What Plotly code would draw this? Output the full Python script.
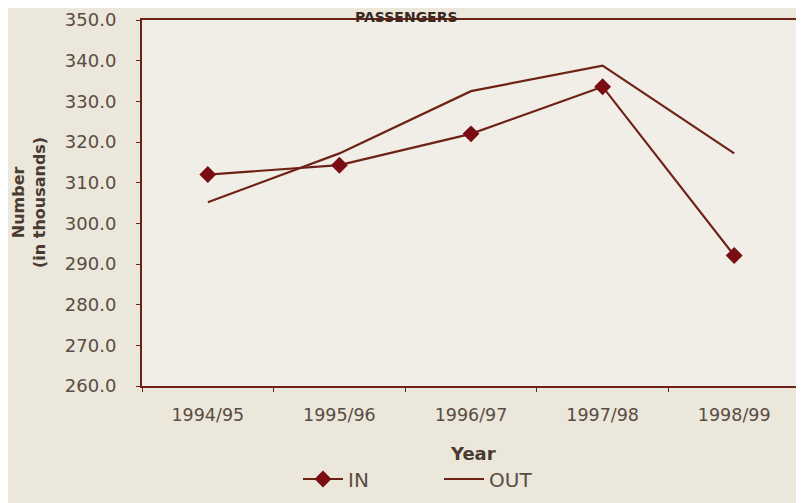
import plotly.graph_objects as go

# passengers by year (thousands)
years = ["1994/95", "1995/96", "1996/97", "1997/98", "1998/99"]
passengers_in = [312.0, 314.3, 322.0, 333.6, 292.1]
passengers_out = [305.2, 317.2, 332.5, 338.8, 317.2]
y_ticks = [260, 270, 280, 290, 300, 310, 320, 330, 340, 350]

line_col = "#6e2217"
marker_col = "#7a0c14"
text_col = "#5a4c44"
font = "DejaVu Sans, Liberation Sans, Arial, sans-serif"

# the page puts the figure ~8px in from the top-left, so size it to fit the window
W, H = 796, 495
L, T = 134, 12
PW, PH = 658, 370

fig = go.Figure()
fig.add_trace(go.Scatter(x=years, y=passengers_in, name="IN", mode="lines+markers",
                         line=dict(color=line_col, width=2.2),
                         marker=dict(symbol="diamond", size=13, color=marker_col)))
fig.add_trace(go.Scatter(x=years, y=passengers_out, name="OUT", mode="lines",
                         line=dict(color=line_col, width=2.2)))

fig.update_layout(
    width=W, height=H,
    margin=dict(l=L, r=W - L - PW, t=T, b=H - T - PH),
    paper_bgcolor="#ebe7da",
    plot_bgcolor="#f0eee6",
    font=dict(family=font, color=text_col, size=17),
    showlegend=True,
    legend=dict(orientation="h", x=(298 - 142) / PW, xanchor="left",
                y=(390 - 484) / PH, yanchor="middle", bgcolor="rgba(0,0,0,0)",
                font=dict(size=20, color=text_col), itemwidth=40,
                entrywidth=86, tracegroupgap=0),
    xaxis=dict(type="category", range=[-0.5, 4.5], tickson="boundaries",
               ticks="outside", ticklen=4, tickcolor=line_col, automargin=False,
               showline=True, linecolor=line_col, linewidth=2, mirror=True,
               showgrid=False, tickfont=dict(size=17.5), ticklabelstandoff=12),
    yaxis=dict(range=[260, 350], tickvals=y_ticks, automargin=False,
               ticktext=["%.1f" % v for v in y_ticks], ticklabeloverflow="allow",
               ticks="outside", ticklen=4, tickcolor=line_col,
               showline=True, linecolor=line_col, linewidth=2, mirror=True,
               showgrid=False, zeroline=False, tickfont=dict(size=18),
               ticklabelstandoff=16),
    annotations=[
        dict(text="<b>PASSENGERS</b>", xref="paper", yref="paper",
             x=(406 - 142) / PW, y=(390 - 8) / PH, xanchor="center",
             yanchor="top", showarrow=False, borderpad=0,
             font=dict(size=14, color="#3a2a22")),
        dict(text="<b>Number<br>(in thousands)</b>", xref="paper", yref="paper",
             x=(29 - 142) / PW, y=(390 - 205) / PH, textangle=-90,
             showarrow=False, xanchor="center", yanchor="middle",
             font=dict(size=16, color="#4a3a30")),
        dict(text="<b>Year</b>", xref="paper", yref="paper",
             x=(473 - 142) / PW, y=(390 - 458) / PH, xanchor="center",
             yanchor="middle", showarrow=False,
             font=dict(size=18, color="#4a3a30")),
    ],
)

fig.write_html("out.html")
